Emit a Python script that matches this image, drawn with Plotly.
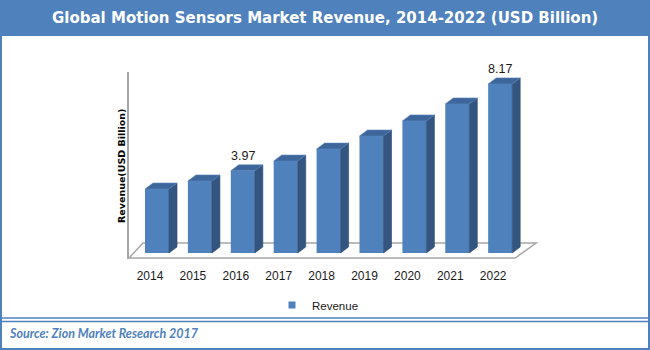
import plotly.graph_objects as go

# ---------------- data ----------------
years = ["2014", "2015", "2016", "2017", "2018", "2019", "2020", "2021", "2022"]
revenue = [3.09, 3.48, 3.97, 4.44, 5.02, 5.65, 6.38, 7.20, 8.17]
labeled_years = ["2016", "2022"]
series_name = "Revenue"

title_text = "Global Motion Sensors Market Revenue, 2014-2022 (USD Billion)"
y_title = "Revenue(USD Billion)"
source_text = "Source: Zion Market Research 2017"

# ---------------- layout constants ----------------
W, H = 650, 350
L, R, T, B = 129, 110, 72, 91
PW = W - L - R
PH = H - T - B
X_RANGE = [-0.653, 8.928]
Y_RANGE = [-0.29, 8.744]
xu = PW / (X_RANGE[1] - X_RANGE[0])   # px per category unit
yu = PH / (Y_RANGE[1] - Y_RANGE[0])   # px per value unit

BAR_W = 0.56
DX = 8 / xu
DY = 6 / yu
LABEL_SHIFT = -7 / xu

BLUE = "#4F81BD"
SIDE = "#33557F"
TOP = "#3D669B"
GREY = "#A6A6A6"


def px_x(p):
    return (p - L) / PW


def px_y(p):
    return (H - B - p) / PH


pos = list(range(len(years)))

fig = go.Figure()

# front faces
fig.add_trace(go.Bar(
    x=pos, y=revenue, width=BAR_W, name=series_name,
    marker=dict(color=BLUE, line=dict(width=0)),
    showlegend=False, hoverinfo="x+y",
))

# side and top faces
sx, sy = [], []
tx, ty = [], []
for i, v in zip(pos, revenue):
    xr = i + BAR_W / 2
    xl = i - BAR_W / 2
    sx += [xr, xr + DX, xr + DX, xr, xr, None]
    sy += [0, DY, v + DY, v, 0, None]
    tx += [xl, xl + DX, xr + DX, xr, xl, None]
    ty += [v, v + DY, v + DY, v, v, None]

fig.add_trace(go.Scatter(x=sx, y=sy, mode="lines", fill="toself",
                         fillcolor=SIDE, line=dict(width=0.6, color="#2C4A70"),
                         showlegend=False, hoverinfo="skip"))
fig.add_trace(go.Scatter(x=tx, y=ty, mode="lines", fill="toself",
                         fillcolor=TOP, line=dict(width=0.6, color="#5A86BE"),
                         showlegend=False, hoverinfo="skip"))

# legend entry
fig.add_trace(go.Scatter(x=[None], y=[None], mode="markers", name=series_name,
                         marker=dict(symbol="square", size=7, color=BLUE)))

# floor (3D base)
n = len(years)
f_front = -5 / yu
f_back = 10 / yu
fl_x0 = X_RANGE[0]
fl_x0b = X_RANGE[0] + 14 / xu
fr_x0 = (n - 1) + 15 / xu
fr_x0b = (n - 1) + 36 / xu
floor_path = (f"M {fl_x0},{f_front} L {fl_x0b},{f_back} L {fr_x0b},{f_back} "
              f"L {fr_x0},{f_front} Z")

shapes = [
    dict(type="path", xref="x", yref="y", path=floor_path,
         line=dict(color=GREY, width=1.5), fillcolor="rgba(0,0,0,0)", layer="below"),
    # title bar
    dict(type="rect", xref="paper", yref="paper",
         x0=px_x(-2), x1=px_x(652), y0=px_y(36), y1=px_y(-2),
         fillcolor=BLUE, line=dict(width=0), layer="below"),
    # outer border
    dict(type="rect", xref="paper", yref="paper",
         x0=px_x(1), x1=px_x(649), y0=px_y(349), y1=px_y(20),
         fillcolor="rgba(0,0,0,0)", line=dict(color=BLUE, width=2)),
    # double separator line
    dict(type="line", xref="paper", yref="paper",
         x0=px_x(0), x1=px_x(650), y0=px_y(318), y1=px_y(318),
         line=dict(color=BLUE, width=1.5)),
    dict(type="line", xref="paper", yref="paper",
         x0=px_x(0), x1=px_x(650), y0=px_y(321.5), y1=px_y(321.5),
         line=dict(color=BLUE, width=1.5)),
]

annotations = [
    dict(text=f"<b>{title_text}</b>", xref="paper", yref="paper",
         x=px_x(325), y=px_y(18), xanchor="center", yanchor="middle",
         showarrow=False, font=dict(family="DejaVu Sans", size=15, color="white")),
    dict(text=f"<b>{y_title}</b>", xref="paper", yref="paper",
         x=px_x(121), y=px_y(166), xanchor="center", yanchor="middle",
         textangle=-90, showarrow=False,
         font=dict(family="DejaVu Sans", size=9.5, color="black")),
    dict(text=f"<i><b>{source_text}</b></i>", xref="paper", yref="paper",
         x=px_x(7), y=px_y(333), xanchor="left", yanchor="middle",
         showarrow=False, font=dict(family="Lato", size=12.5, color=BLUE)),
]

for yr, i, v in zip(years, pos, revenue):
    if yr in labeled_years:
        annotations.append(dict(
            text=f"{v:.2f}", x=i, y=v + DY, xref="x", yref="y",
            xanchor="center", yanchor="bottom", yshift=0, showarrow=False,
            font=dict(family="Liberation Sans", size=12.5, color="#1a1a1a")))

fig.update_layout(
    width=W, height=H,
    margin=dict(l=L, r=R, t=T, b=B, pad=0),
    paper_bgcolor="white", plot_bgcolor="white",
    shapes=shapes, annotations=annotations,
    showlegend=True,
    legend=dict(orientation="h", x=px_x(318), y=px_y(305), xanchor="center",
                yanchor="middle", font=dict(family="Liberation Sans", size=11.5,
                                            color="#1a1a1a"),
                bgcolor="rgba(0,0,0,0)"),
    xaxis=dict(range=X_RANGE, showgrid=False, zeroline=False, showline=False,
               tickmode="array", tickvals=[i + LABEL_SHIFT for i in pos],
               ticktext=years, ticks="outside", ticklen=6,
               tickcolor="rgba(0,0,0,0)",
               tickfont=dict(family="Liberation Sans", size=12, color="#1a1a1a"),
               fixedrange=True),
    yaxis=dict(range=Y_RANGE, showgrid=False, zeroline=False, showline=True,
               linecolor=GREY, linewidth=2, showticklabels=False, ticks="",
               fixedrange=True),
    barmode="overlay",
)

fig.write_html("out.html")
